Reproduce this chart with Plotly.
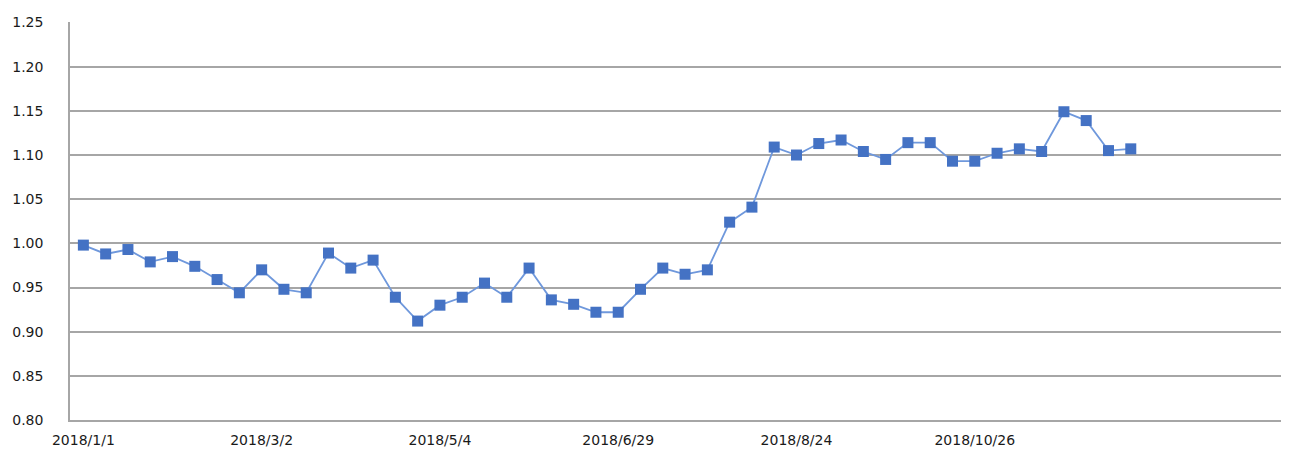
import plotly.graph_objects as go

values = [0.998, 0.988, 0.993, 0.979, 0.985, 0.974, 0.959, 0.944, 0.970, 0.948,
          0.944, 0.989, 0.972, 0.981, 0.939, 0.912, 0.930, 0.939, 0.955, 0.939,
          0.972, 0.936, 0.931, 0.922, 0.922, 0.948, 0.972, 0.965, 0.970, 1.024,
          1.041, 1.109, 1.100, 1.113, 1.117, 1.104, 1.095, 1.114, 1.114, 1.093,
          1.093, 1.102, 1.107, 1.104, 1.149, 1.139, 1.105, 1.107]
x_index = list(range(len(values)))
tick_positions = [0, 8, 16, 24, 32, 40]
tick_labels = ["2018/1/1", "2018/3/2", "2018/5/4", "2018/6/29", "2018/8/24", "2018/10/26"]

fig = go.Figure()
fig.add_trace(go.Scatter(
    x=x_index, y=values, mode="lines+markers",
    line=dict(color="#6f98dc", width=1.8),
    marker=dict(symbol="square", size=11, color="#4472C4", line=dict(width=0)),
    showlegend=False, cliponaxis=False,
))

fig.update_layout(
    width=1281, height=447,
    margin=dict(l=62, r=0, t=14, b=35),
    paper_bgcolor="white", plot_bgcolor="white",
    font=dict(family="DejaVu Sans", size=14, color="#1a1a1a"),
    xaxis=dict(
        range=[-0.6, 54.1], tickmode="array", tickvals=tick_positions, ticktext=tick_labels,
        showgrid=False, showline=True, linecolor="#a6a6a6", linewidth=1.5,
        ticks="", zeroline=False, ticklabelstandoff=6, automargin=False,
    ),
    yaxis=dict(
        range=[0.80, 1.2506], dtick=0.05, tick0=0.80, tickformat=".2f",
        showgrid=True, gridcolor="#a6a6a6", gridwidth=1.5,
        showline=True, linecolor="#a6a6a6", linewidth=1.5,
        ticks="", zeroline=False, ticklabelstandoff=22, automargin=False,
    ),
)

fig.write_html("out.html")
